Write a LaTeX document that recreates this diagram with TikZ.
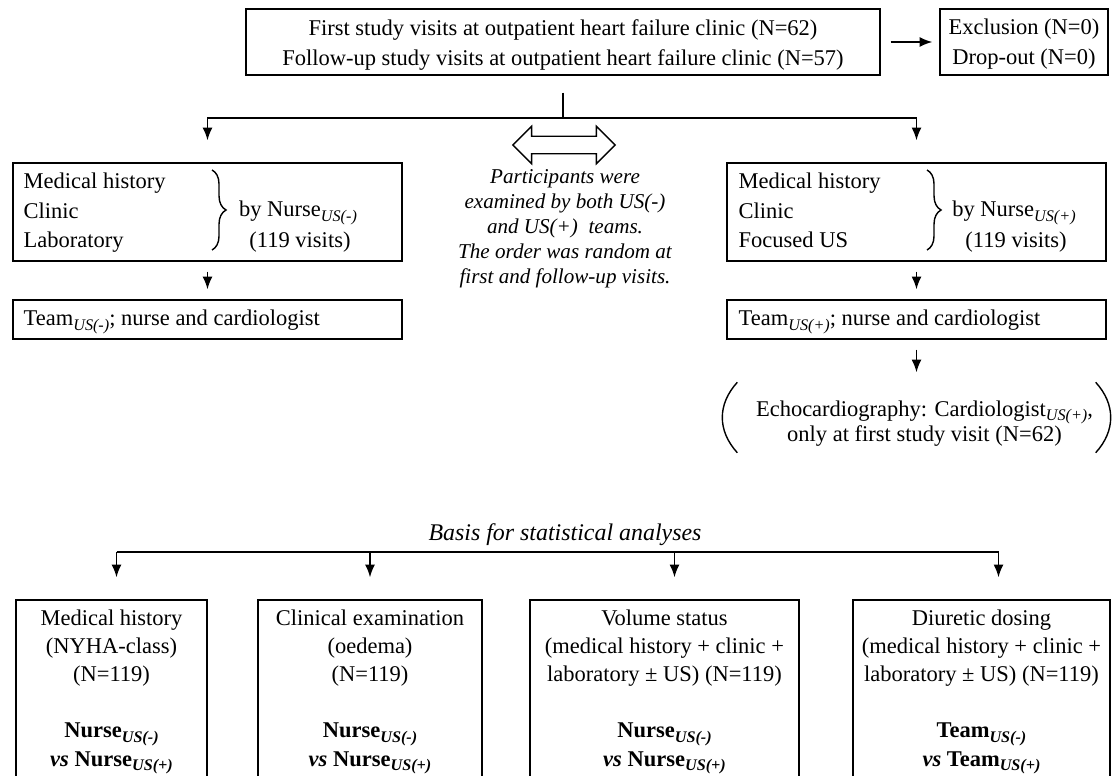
\documentclass[tikz,border=0pt]{standalone}
\usepackage{fontspec}
\setmainfont{Liberation Serif}
\usetikzlibrary{positioning,fit,arrows.meta,shapes.arrows,decorations.pathreplacing}

\newcommand{\subneg}{\raisebox{-0.45ex}{\fontsize{11.5}{12}\selectfont\itshape US(-)}}
\newcommand{\subpos}{\raisebox{-0.45ex}{\fontsize{11.5}{12}\selectfont\itshape US(+)}}

\begin{document}
\begin{tikzpicture}[x=0.025cm,y=-0.025cm,line width=1pt,
  font=\fontsize{16}{21}\selectfont,
  frame/.style={draw,inner sep=0pt},
  ctext/.style={inner sep=0pt,align=center},
  txt/.style={inner sep=0pt,anchor=west,text height=11pt,text depth=3pt},
  note/.style={inner sep=0pt,align=center,font=\fontsize{15}{17.8}\selectfont\itshape},
  res/.style={ctext,font=\fontsize{16}{20}\selectfont},
  arr/.style={-{Latex[length=9pt,width=7pt]}},
  gap/.style={shorten <=0.25cm,shorten >=0.25cm},
  brc/.style={decorate,decoration={brace,amplitude=10pt}}]
\useasboundingbox (0,0) rectangle (1113,776);

\node[frame,fit={(246,9)(880,75)}] (visits) {};
\node[ctext] (visitstxt) at ([yshift=-0.075cm]visits.center) {First study visits at outpatient heart failure clinic (N=62)\\Follow-up study visits at outpatient heart failure clinic (N=57)};
\node[frame,fit={(940,9)(1108,75)}] (excl) {};
\node[ctext] (excltxt) at ([yshift=-0.05cm]excl.center) {Exclusion (N=0)\\Drop-out (N=0)};
\draw[arr,shorten <=0.25cm,shorten >=0.175cm] (visits) -- (excl);

% nurse without ultrasound
\node[frame,fit={(13,163)(402,261)}] (lnurse) {};
\node[txt] at (23,183) {Medical history};
\node[txt] at (23,213) {Clinic};
\node[txt] at (23,242) {Laboratory};
\draw[brc] (212,170) -- (212,250);
\node at (298,213) {by Nurse\subneg};
\node at (300,242) {(119 visits)};
\node[frame,fit={(13,300)(402,339)}] (lteam) {};
\node[txt] at (23,320) {Team\subneg; nurse and cardiologist};
\draw[arr,gap] (lnurse) -- (lteam);

% nurse with ultrasound
\node[frame,fit={(727,163)(1106,261)}] (rnurse) {};
\node[txt] at (738,183) {Medical history};
\node[txt] at (738,213) {Clinic};
\node[txt] at (738,242) {Focused US};
\draw[brc] (927,170) -- (927,250);
\node at (1014,213) {by Nurse\subpos};
\node at (1016,242) {(119 visits)};
\node[frame,fit={(727,300)(1106,339)}] (rteam) {};
\node[txt] at (738,320) {Team\subpos; nurse and cardiologist};
\draw[arr,gap] (rnurse) -- (rteam);
\node[inner sep=0pt,fit={(738,383)(1095,452)}] (echo) {};
\node[ctext,font=\fontsize{16}{18}\selectfont] (echotxt) at ([xshift=0.2cm,yshift=-0.15cm]echo.center) {Echocardiography: Cardiologist\subpos,\\only at first study visit (N=62)};
\draw (echo.north west) .. controls +(-20,22) and +(-20,-22) .. (echo.south west);
\draw (echo.north east) .. controls +(20,22) and +(20,-22) .. (echo.south east);
\draw[arr,gap] (rteam) -- (echo);

\coordinate (fork) at (563,118);
\draw (visits.south) ++(0,17) -- (fork);
\draw[arr,shorten >=0.55cm] (fork) -| (lnurse.north);
\draw[arr,shorten >=0.55cm] (fork) -| (rnurse.north);

\node[draw,double arrow,minimum height=2.55cm,minimum width=0.9cm,inner sep=0.2cm,
  double arrow head extend=0.25cm] (swap) at (564,145) {};
\node[note] (order) at (565,229) {Participants were\\examined by both US(-)\\and US(+)\ \ teams.\\The order was random at\\first and follow-up visits.};

% analyses
\node[note,font=\fontsize{17}{20}\selectfont\itshape] (basis) at (565,535) {Basis for statistical analyses};
\node[frame,fit={(16,600)(207,790)}] (bhist) {};
\node[frame,fit={(258,600)(482,790)}] (bexam) {};
\node[frame,fit={(530,600)(799,790)}] (bvol) {};
\node[frame,fit={(853,600)(1110,790)}] (bdose) {};
\node[res] (bhisttxt) at (111.5,692) {Medical history\\(NYHA-class)\\(N=119)\\[20pt]{\bfseries Nurse\subneg}\\{\bfseries\textit{vs} Nurse\subpos}};
\node[res] (bexamtxt) at (370,692) {Clinical examination\\(oedema)\\(N=119)\\[20pt]{\bfseries Nurse\subneg}\\{\bfseries\textit{vs} Nurse\subpos}};
\node[res] (bvoltxt) at (664.5,692) {Volume status\\(medical history + clinic +\\laboratory ± US) (N=119)\\[20pt]{\bfseries Nurse\subneg}\\{\bfseries\textit{vs} Nurse\subpos}};
\node[res] (bdosetxt) at (981.5,692) {Diuretic dosing\\(medical history + clinic +\\laboratory ± US) (N=119)\\[20pt]{\bfseries Team\subneg}\\{\bfseries\textit{vs} Team\subpos}};

\coordinate (bline) at (0,552);
\draw ([xshift=0.125cm]bhist.north |- bline) -- ([xshift=0.425cm]bdose.north |- bline);
\foreach \b/\dx in {bhist/5,bexam/0,bvol/10,bdose/17}
  \draw[arr,shorten >=0.55cm] ([xshift=\dx*0.025cm]\b.north |- bline) -- ([xshift=\dx*0.025cm]\b.north);
\end{tikzpicture}
\end{document}
